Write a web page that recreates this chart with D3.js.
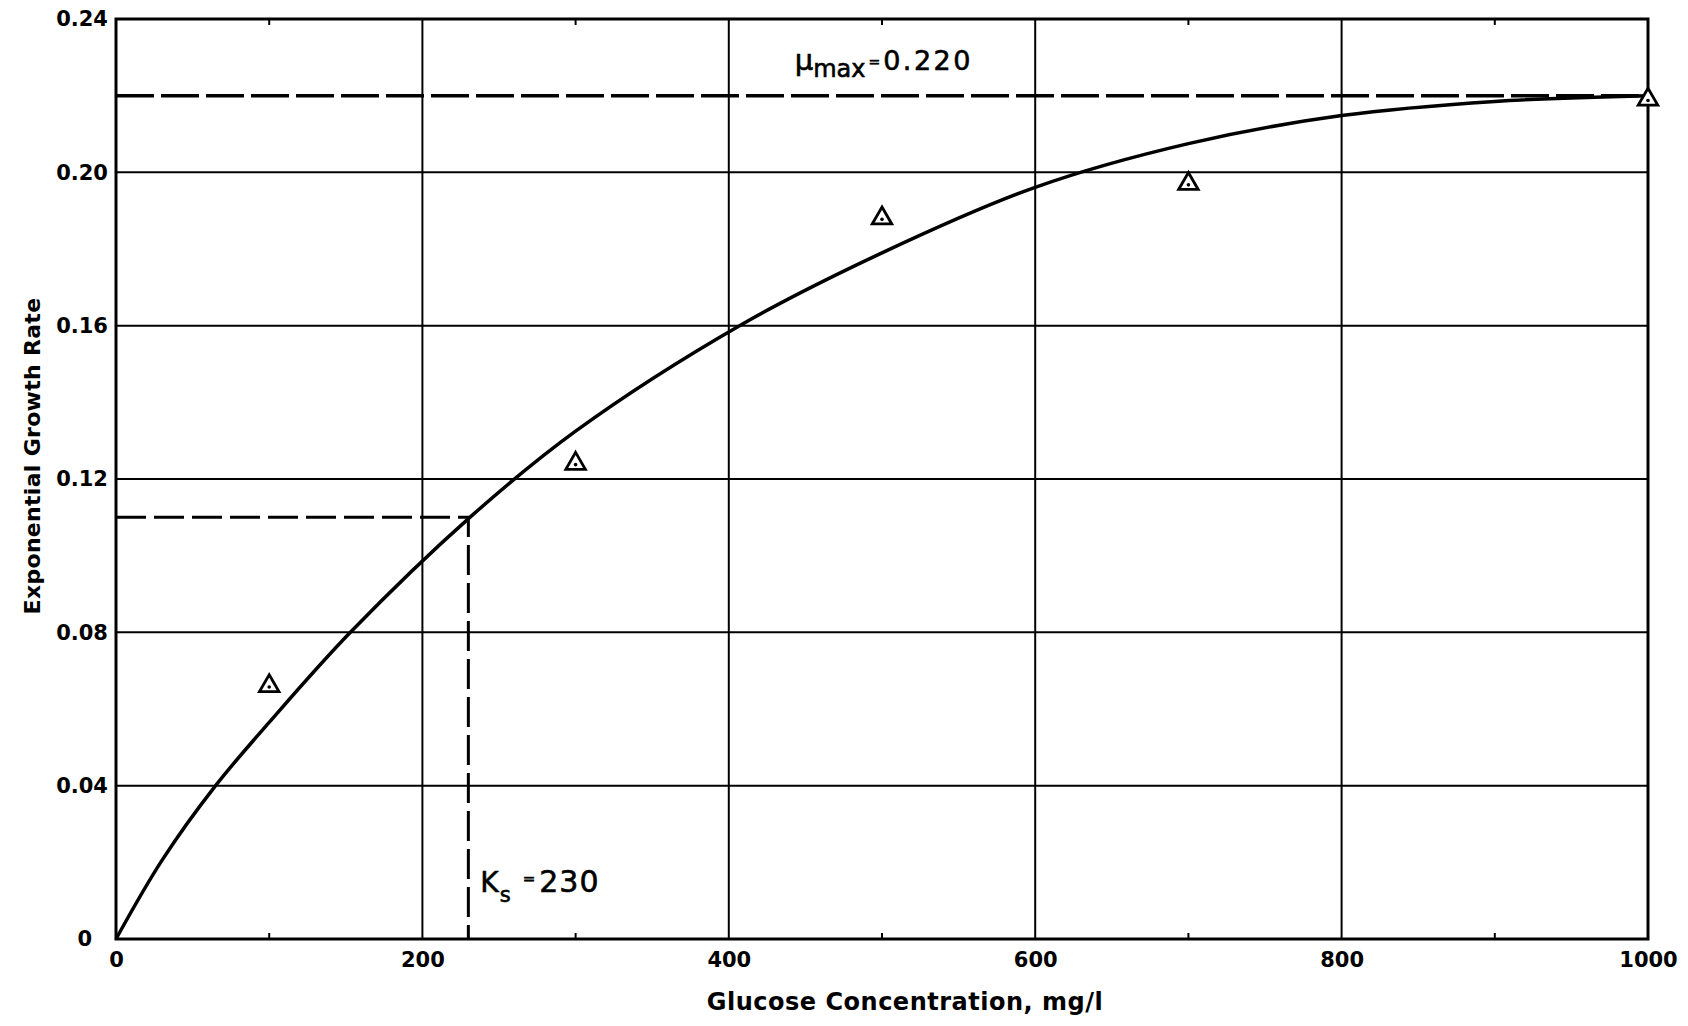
<!DOCTYPE html>
<html>
<head>
<meta charset="utf-8">
<script src="https://cdn.jsdelivr.net/npm/d3@7"></script>
<style>
  html, body { margin: 0; padding: 0; background: #fff; }
  svg { display: block; }
  text { font-family: "DejaVu Sans", Verdana, sans-serif; fill: #000; }
</style>
</head>
<body>
<svg width="1688" height="1026"></svg>
<script>
// tick values
var xTicks = [0, 200, 400, 600, 800, 1000];
var yTicks = [0, 0.04, 0.08, 0.12, 0.16, 0.20, 0.24];
var minorTicks = [100, 300, 500, 700, 900];

// measured points (triangles)
var glucose = [100, 300, 500, 700, 1000];
var growthRate = [0.066, 0.124, 0.188, 0.197, 0.219];

// hand drawn fitted curve
var curveGlucose = [0, 30, 65, 100, 153, 231, 300, 407, 500, 600, 700, 800, 900, 1000];
var curveRate    = [0, 0.0205, 0.040, 0.0565, 0.080, 0.110, 0.1325, 0.160, 0.179, 0.1961, 0.2075, 0.2148, 0.2185, 0.2200];

// constants
var muMax = 0.220;
var ks = 230;
var halfMu = 0.110;

var svg = d3.select("svg");
var margin = {top: 19, right: 40, bottom: 87, left: 116},
    width = 1688 - margin.left - margin.right,
    height = 1026 - margin.top - margin.bottom;

var g = svg.append("g")
    .attr("transform", "translate(" + margin.left + "," + margin.top + ")");

var x = d3.scaleLinear().domain([0, 1000]).range([0, width]);
var y = d3.scaleLinear().domain([0, 0.24]).range([height, 0]);

// grid
g.append("g").selectAll("line")
    .data(xTicks.slice(1, -1))
  .enter().append("line")
    .attr("x1", function(d) { return x(d); })
    .attr("x2", function(d) { return x(d); })
    .attr("y1", 0)
    .attr("y2", height)
    .attr("stroke", "#000")
    .attr("stroke-width", 2);

g.append("g").selectAll("line")
    .data(yTicks.slice(1, -1))
  .enter().append("line")
    .attr("x1", 0)
    .attr("x2", width)
    .attr("y1", function(d) { return y(d); })
    .attr("y2", function(d) { return y(d); })
    .attr("stroke", "#000")
    .attr("stroke-width", 2);

// small ticks on top and bottom
minorTicks.forEach(function(d) {
  g.append("line").attr("x1", x(d)).attr("x2", x(d))
    .attr("y1", height).attr("y2", height - 6)
    .attr("stroke", "#000").attr("stroke-width", 2);
  g.append("line").attr("x1", x(d)).attr("x2", x(d))
    .attr("y1", 0).attr("y2", 6)
    .attr("stroke", "#000").attr("stroke-width", 2);
});

// frame
g.append("rect")
    .attr("width", width)
    .attr("height", height)
    .attr("fill", "none")
    .attr("stroke", "#000")
    .attr("stroke-width", 3);

// axes (labels only)
var xAxis = g.append("g")
    .attr("transform", "translate(0," + height + ")")
    .call(d3.axisBottom(x).tickValues(xTicks).tickSize(0).tickPadding(13).tickFormat(d3.format("d")));
xAxis.select(".domain").remove();
xAxis.selectAll("text")
    .style("font-family", "DejaVu Sans")
    .style("font-weight", "bold")
    .style("font-size", "21px")
    .attr("fill", "#000");

var yAxis = g.append("g")
    .call(d3.axisLeft(y).tickValues(yTicks).tickSize(0).tickPadding(8)
      .tickFormat(function(d) { return d === 0 ? "0" : d3.format(".2f")(d); }));
yAxis.select(".domain").remove();
yAxis.selectAll("text")
    .style("font-family", "DejaVu Sans")
    .style("font-weight", "bold")
    .style("font-size", "21px")
    .attr("fill", "#000");
yAxis.selectAll(".tick").filter(function(d) { return d === 0; })
    .select("text").attr("dx", -16);

// dashed reference lines
g.append("line")
    .attr("x1", x(0)).attr("x2", x(1000))
    .attr("y1", y(muMax)).attr("y2", y(muMax))
    .attr("stroke", "#000")
    .attr("stroke-width", 3.5)
    .attr("stroke-dasharray", "38,7");

g.append("path")
    .attr("d", "M" + x(0) + "," + y(halfMu) + "H" + x(ks) + "V" + y(0))
    .attr("fill", "none")
    .attr("stroke", "#000")
    .attr("stroke-width", 3)
    .attr("stroke-dasharray", "30,8");

// curve
var line = d3.line()
    .x(function(d, i) { return x(curveGlucose[i]); })
    .y(function(d, i) { return y(curveRate[i]); })
    .curve(d3.curveCatmullRom.alpha(0.5));

g.append("path")
    .datum(curveGlucose)
    .attr("d", line)
    .attr("fill", "none")
    .attr("stroke", "#000")
    .attr("stroke-width", 3.5);

// triangles
var tri = d3.symbol().type(d3.symbolTriangle).size(165);
var pts = g.append("g").selectAll("g")
    .data(glucose)
  .enter().append("g")
    .attr("transform", function(d, i) { return "translate(" + x(d) + "," + y(growthRate[i]) + ")"; });
pts.append("path")
    .attr("d", tri)
    .attr("fill", "#fff")
    .attr("stroke", "#000")
    .attr("stroke-width", 2.8);
pts.append("circle")
    .attr("r", 1.8)
    .attr("cy", 1)
    .attr("fill", "#000");

// annotations
var mu = g.append("text")
    .attr("x", x(443))
    .attr("y", y(muMax) - 26)
    .attr("stroke", "#000")
    .attr("stroke-width", 0.6);
mu.append("tspan").style("font-size", "29px").text("\u03bc");
mu.append("tspan").style("font-size", "24px").attr("dy", 7).text("max");
mu.append("tspan").style("font-size", "14px").attr("dy", -10).attr("dx", 3).text("=");
mu.append("tspan").style("font-size", "27px").style("letter-spacing", "2.5px").attr("dy", 3).attr("dx", 3).text("0.220");

var k = g.append("text")
    .attr("x", x(ks) + 12)
    .attr("y", y(0) - 47)
    .attr("stroke", "#000")
    .attr("stroke-width", 0.6);
k.append("tspan").style("font-size", "28px").text("K");
k.append("tspan").style("font-size", "21px").attr("dy", 10).attr("dx", 1).text("s");
k.append("tspan").style("font-size", "15px").attr("dy", -18).attr("dx", 12).text("=");
k.append("tspan").style("font-size", "30px").style("letter-spacing", "1px").attr("dy", 8).attr("dx", 4).text("230");

// axis titles
svg.append("text")
    .attr("x", 905)
    .attr("y", 1010)
    .attr("text-anchor", "middle")
    .style("font-weight", "bold")
    .style("font-size", "24px")
    .style("letter-spacing", "0.5px")
    .text("Glucose  Concentration, mg/l");

svg.append("text")
    .attr("transform", "translate(40,456) rotate(-90)")
    .attr("text-anchor", "middle")
    .style("font-weight", "bold")
    .style("font-size", "22px")
    .style("letter-spacing", "0.3px")
    .text("Exponential Growth Rate");
</script>
</body>
</html>
